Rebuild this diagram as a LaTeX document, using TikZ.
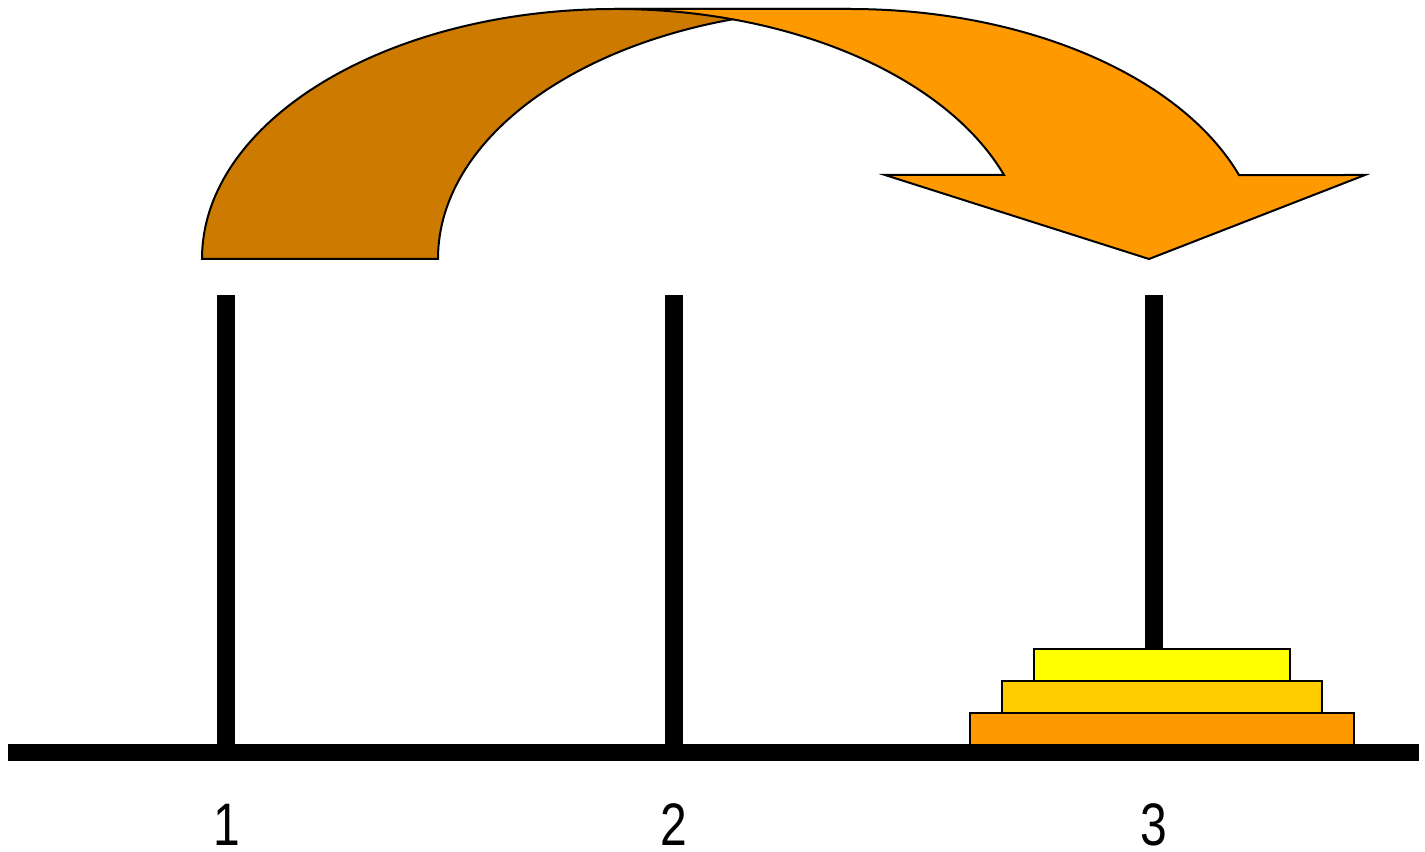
\documentclass[tikz,border=0pt]{standalone}
\usepackage{fontspec}
\setmainfont{Liberation Sans}
\definecolor{arrowback}{HTML}{CC7A00}
\definecolor{arrowfront}{HTML}{FF9900}
\definecolor{diskbig}{HTML}{FF9900}
\definecolor{diskmid}{HTML}{FFCC00}
\definecolor{disksmall}{HTML}{FFFF00}
\tikzset{
  arrowpart/.style={draw=black, line width=1.5pt, line join=miter},
  pegbar/.style={fill=black},
  disk/.style={draw=black, line width=1.5pt},
  peglabel/.style={inner sep=0pt, anchor=base, text depth=0pt, font=\fontsize{45}{45}\selectfont}
}
\begin{document}
\begin{tikzpicture}[x=0.75pt, y=0.75pt]
\useasboundingbox (0,0) rectangle (1425,851);
% back part of the curved arrow
\path[arrowpart, fill=arrowback] (202,592) arc[start angle=180, end angle=90, x radius=413, y radius=250]
  -- (850,842) arc[start angle=90, end angle=180, x radius=412, y radius=250] -- cycle;
% front part with the head
\path[arrowpart, fill=arrowfront] (615,842) -- (850,842)
  arc[start angle=90, end angle=19.63, x radius=413, y radius=250]
  -- (1365,676) -- (1149,592) -- (885,676) -- (1004,676)
  arc[start angle=19.63, end angle=90, x radius=413, y radius=250] -- cycle;
% pegs
\fill[pegbar] (217,107) rectangle (235,556);
\fill[pegbar] (665,107) rectangle (683,556);
\fill[pegbar] (1145,107) rectangle (1163,556);
% base
\fill[pegbar] (8,90) rectangle (1419,107);
% disks on peg 3
\path[disk, fill=diskbig] (970,106) rectangle (1354,138);
\path[disk, fill=diskmid] (1002,138) rectangle (1322,170);
\path[disk, fill=disksmall] (1034,170) rectangle (1290,202);
% labels
\node[peglabel] (l1) at (227,6) {\scalebox{0.8}[1]{1}};
\node[peglabel] (l2) at (674,6) {\scalebox{0.8}[1]{2}};
\node[peglabel] (l3) at (1154,6) {\scalebox{0.8}[1]{3}};
\end{tikzpicture}
\end{document}
